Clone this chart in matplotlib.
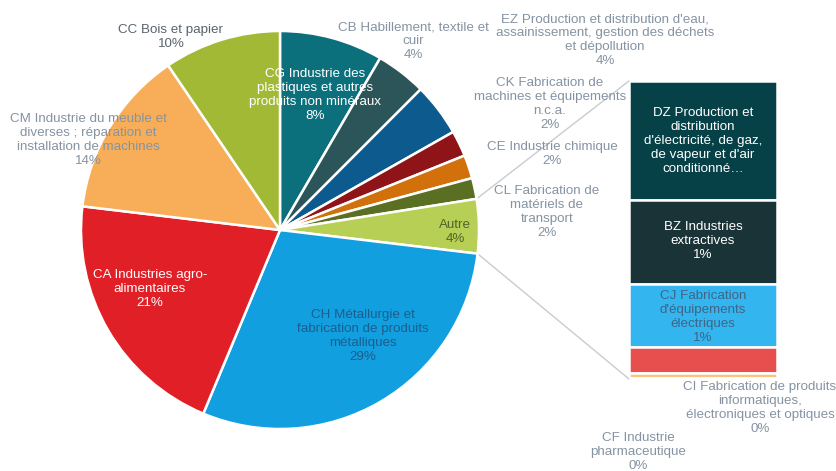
import matplotlib
matplotlib.use("Agg")
import matplotlib.pyplot as plt
from matplotlib.patches import ConnectionPatch
import numpy as np

plt.rcParams["font.family"] = ["Liberation Sans", "DejaVu Sans"]

# pie slices, clockwise from 12 o'clock (percent of total)
pie_names = [
    "CG Industrie des\nplastiques et autres\nproduits non minéraux",
    "CB Habillement, textile et\ncuir",
    "EZ Production et distribution d'eau,\nassainissement, gestion des déchets\net dépollution",
    "CK Fabrication de\nmachines et équipements\nn.c.a.",
    "CE Industrie chimique",
    "CL Fabrication de\nmatériels de\ntransport",
    "Autre",
    "CH Métallurgie et\nfabrication de produits\nmétalliques",
    "CA Industries agro-\nalimentaires",
    "CM Industrie du meuble et\ndiverses ; réparation et\ninstallation de machines",
    "CC Bois et papier",
]
pie_values = [8.4, 4.1, 4.3, 2.1, 1.9, 1.7, None, 29.4, 20.6, 13.6, 9.5]
pie_colors = ["#0b6f7c", "#2b5558", "#0d5b8e", "#8e1418", "#d2700c", "#5b6f22",
              "#b8cf55", "#119fe0", "#e11f26", "#f8ae58", "#a2b935"]

# bar of the "Autre" slice, top to bottom
bar_names = [
    "DZ Production et\ndistribution\nd'électricité, de gaz,\nde vapeur et d'air\nconditionné…",
    "BZ Industries\nextractives",
    "CJ Fabrication\nd'équipements\nélectriques",
    "",
    "CI Fabrication de produits\ninformatiques,\nélectroniques et optiques",
    "CF Industrie\npharmaceutique",
]
bar_values = [1.75, 1.24, 0.94, 0.38, 0.07, 0.02]
bar_show_pct = [False, True, True, False, True, True]
bar_colors = ["#064148", "#1a3337", "#33b5f0", "#e74f4f", "#fbc47c", "#8fa0b0"]

pie_values[6] = sum(bar_values)

W, H = 837, 471
fig = plt.figure(figsize=(W / 100, H / 100), dpi=100)
ax = fig.add_axes([0, 0, 1, 1])

cx, cy, r = 280, H - 230, 199
wedges, _ = ax.pie(pie_values, colors=pie_colors, startangle=90, counterclock=False,
                   center=(cx, cy), radius=r, frame=True,
                   wedgeprops=dict(edgecolor="white", linewidth=1.8))
ax.set_xlim(0, W)
ax.set_ylim(0, H)
ax.set_aspect("equal")
ax.axis("off")

# stacked bar for "Autre"
bx0, bx1, by0, by1 = 629, 777, 379, 81
bax = fig.add_axes([bx0 / W, (H - by0) / H, (bx1 - bx0) / W, (by0 - by1) / H])
total_bar = sum(bar_values)
bottom = total_bar
for v, c in zip(bar_values, bar_colors):
    bottom -= v
    bax.bar(0, v, bottom=bottom, width=1, color=c, edgecolor="white", linewidth=1.8)
bax.set_xlim(-0.5, 0.5)
bax.set_ylim(0, total_bar)
bax.axis("off")

# keep the label layer above the bar axes
ax.set_zorder(3)
ax.patch.set_visible(False)

# connector lines from the "Autre" wedge to the bar
w = wedges[6]
for ang, yb in [(w.theta2, 1), (w.theta1, 0)]:
    a = np.deg2rad(ang)
    p = (cx + r * np.cos(a), cy + r * np.sin(a))
    con = ConnectionPatch(xyA=p, coordsA=ax.transData, xyB=(0, yb),
                          coordsB=bax.transAxes, color="#c8ccd0", linewidth=1)
    fig.add_artist(con)

gray = "#8593a2"
fs = 9.6
# label centres in pixel coords (x, y from top)
pie_label_pos = [(315, 95), (413, 41), (605, 40), (550, 104), (552, 154), (547, 212),
                 (455, 232), (363, 336), (150, 289), (88, 140), (171, 37)]
pie_label_col = ["white", gray, gray, gray, gray, gray, "#4f6428", "#1d5d8c",
                 "white", gray, "#59636e"]
for name, v, (x, y), c in zip(pie_names, pie_values, pie_label_pos, pie_label_col):
    ax.text(x, H - y, f"{name}\n{round(v)}%", ha="center", va="center",
            fontsize=fs, color=c, linespacing=1.2)

bar_label_pos = [(703, 141), (703, 241), (703, 317), None, (760, 408), (638, 452)]
bar_label_col = ["white", "white", "#3f6585", None, gray, gray]
for name, v, show, pos, c in zip(bar_names, bar_values, bar_show_pct,
                                 bar_label_pos, bar_label_col):
    if pos is None:
        continue
    txt = f"{name}\n{round(v)}%" if show else name
    ax.text(pos[0], H - pos[1], txt, ha="center", va="center", fontsize=fs,
            color=c, linespacing=1.2, zorder=5)

fig.savefig("out.png", dpi=100)
